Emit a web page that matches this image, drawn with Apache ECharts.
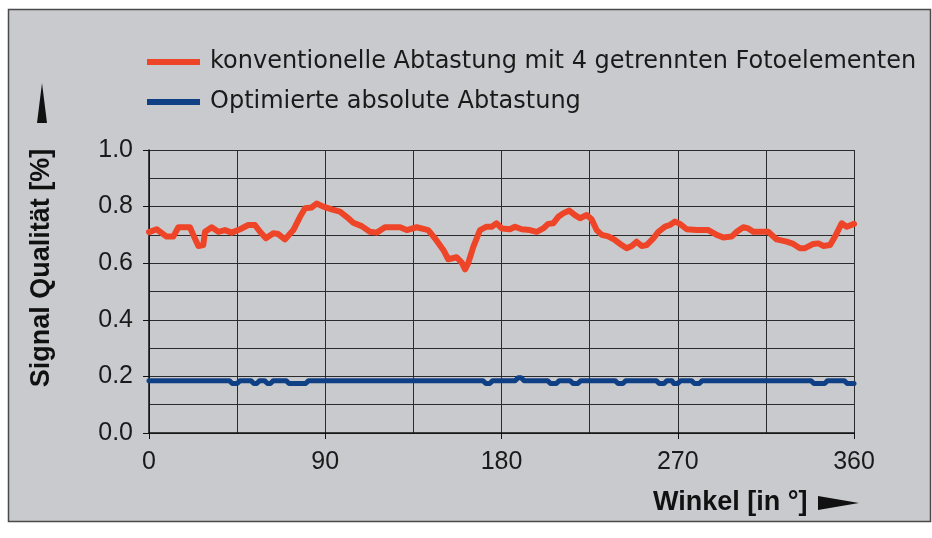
<!DOCTYPE html>
<html>
<head>
<meta charset="utf-8">
<script src="https://cdn.jsdelivr.net/npm/echarts@6.0.0/dist/echarts.min.js"></script>
<style>
  html, body { margin: 0; padding: 0; background: #fff; }
  #chart { width: 932px; height: 538px; }
</style>
</head>
<body>
<div id="chart"></div>
<script>
// angle in degrees and signal quality (0..1)
var redAngles = [
  0, 3.9, 9.0, 12.4, 15.0, 20.9, 22.6, 25.2, 27.7, 28.6,
  32.0, 35.4, 38.8, 42.2, 46.5, 50.7, 54.1, 56.7, 59.7, 63.5,
  66.0, 69.4, 73.7, 77.1, 79.7, 83.1, 85.6, 89.0, 93.3, 97.5,
  100.9, 104.3, 108.6, 112.8, 116.3, 120.5, 128.2, 131.6, 136.7, 142.6,
  146.0, 150.3, 152.8, 157.1, 159.7, 161.4, 163.0, 165.6, 169.0, 172.4,
  175.0, 177.5, 180.1, 184.3, 186.9, 190.3, 194.5, 198.0, 201.3, 203.9,
  206.4, 209.0, 211.5, 214.6, 217.5, 220.1, 223.5, 226.0, 228.6, 231.2,
  234.5, 237.9, 241.4, 243.9, 246.5, 249.0, 251.6, 254.1, 257.5, 260.1,
  263.5, 266.0, 268.6, 271.1, 274.6, 279.7, 285.6, 289.9, 293.3, 297.5,
  300.1, 303.5, 306.0, 308.6, 316.2, 320.5, 325.6, 329.0, 332.4, 335.0,
  339.2, 341.8, 344.3, 347.8, 350.3, 353.7, 356.3, 360
];
var redValues = [
  0.71, 0.72, 0.694, 0.694, 0.727, 0.727, 0.70, 0.661, 0.664, 0.711,
  0.727, 0.711, 0.717, 0.708, 0.72, 0.735, 0.735, 0.711, 0.688, 0.706,
  0.703, 0.684, 0.717, 0.764, 0.794, 0.797, 0.811, 0.80, 0.79, 0.782,
  0.764, 0.743, 0.731, 0.711, 0.708, 0.727, 0.727, 0.717, 0.727, 0.717,
  0.688, 0.647, 0.614, 0.621, 0.602, 0.578, 0.60, 0.658, 0.717, 0.729,
  0.729, 0.741, 0.723, 0.72, 0.729, 0.72, 0.717, 0.711, 0.723, 0.739,
  0.741, 0.764, 0.776, 0.786, 0.770, 0.759, 0.770, 0.755, 0.717, 0.70,
  0.695, 0.682, 0.664, 0.653, 0.661, 0.676, 0.661, 0.664, 0.688, 0.711,
  0.729, 0.735, 0.747, 0.739, 0.72, 0.717, 0.717, 0.70, 0.691, 0.694,
  0.711, 0.727, 0.723, 0.711, 0.711, 0.684, 0.676, 0.668, 0.653, 0.653,
  0.668, 0.670, 0.661, 0.664, 0.694, 0.741, 0.729, 0.739
];

var blueAngles = [
  0, 41, 42.5, 45, 46.5, 52, 53.5, 55, 56.5, 59,
  60.5, 62, 63.5, 70, 71.5, 80, 81.5, 170.5, 172, 174,
  175.5, 187, 188.5, 190, 191.5, 203.5, 205, 208, 209.5, 215,
  216.5, 219, 220.5, 238, 239.5, 242, 243.5, 259, 260.5, 263,
  264.5, 267, 268, 270, 271.5, 277, 278.5, 281, 282.5, 338,
  339.5, 345, 346.5, 355, 356.5, 360
];
var blueValues = [
  0.185, 0.185, 0.175, 0.175, 0.185, 0.185, 0.175, 0.175, 0.185, 0.185,
  0.175, 0.175, 0.185, 0.185, 0.175, 0.175, 0.185, 0.185, 0.175, 0.175,
  0.185, 0.185, 0.195, 0.195, 0.185, 0.185, 0.175, 0.175, 0.185, 0.185,
  0.175, 0.175, 0.185, 0.185, 0.175, 0.175, 0.185, 0.185, 0.175, 0.175,
  0.185, 0.185, 0.175, 0.175, 0.185, 0.185, 0.175, 0.175, 0.185, 0.185,
  0.175, 0.175, 0.185, 0.185, 0.175, 0.175
];

var seriesNames = [
  'konventionelle Abtastung mit 4 getrennten Fotoelementen',
  'Optimierte absolute Abtastung'
];
var xTicks = [0, 90, 180, 270, 360];
var yTicks = [0.0, 0.2, 0.4, 0.6, 0.8, 1.0];

function zip(xs, ys) {
  var out = [];
  for (var i = 0; i < xs.length; i++) {
    out.push([xs[i], ys[i]]);
  }
  return out;
}

var FONT = '"Liberation Sans", Arial, sans-serif';
var gridLine = { color: '#2b2b2b', width: 1 };

var myChart = echarts.init(document.getElementById('chart'), null, { renderer: 'canvas' });

var option = {
  backgroundColor: '#ffffff',
  animation: false,
  graphic: [
    {
      type: 'rect', z: -10, silent: true,
      shape: { x: 8.5, y: 9.5, width: 922, height: 512 },
      style: { fill: '#c9cacd', stroke: '#4a4a4a', lineWidth: 1.5 }
    },
    {
      type: 'text', x: 42, y: 268, rotation: Math.PI / 2,
      style: {
        text: 'Signal Qualität [%]', font: 'bold 27px ' + FONT,
        fill: '#111', align: 'center', verticalAlign: 'middle'
      }
    },
    {
      type: 'polygon',
      shape: { points: [[42, 83], [37, 123], [47, 123]] },
      style: { fill: '#111' }
    },
    {
      type: 'text', x: 653, y: 503,
      style: {
        text: 'Winkel [in °]', font: 'bold 27px ' + FONT,
        fill: '#111', align: 'left', verticalAlign: 'middle'
      }
    },
    {
      type: 'polygon',
      shape: { points: [[859, 503], [818, 496], [818, 510]] },
      style: { fill: '#111' }
    }
  ],
  legend: {
    orient: 'vertical',
    left: 147,
    top: 49,
    padding: 0,
    itemWidth: 53,
    itemHeight: 6,
    itemGap: 14,
    icon: 'rect',
    data: seriesNames,
    textStyle: {
      fontFamily: '"DejaVu Sans", sans-serif', fontSize: 24, color: '#1a1a1a',
      lineHeight: 26, padding: [0, 0, 0, 5]
    }
  },
  grid: { left: 149, top: 150, right: 78, bottom: 105, containLabel: false },
  xAxis: {
    type: 'value',
    min: 0,
    max: 360,
    interval: 90,
    axisLine: { show: true, onZero: false, lineStyle: { color: '#111', width: 1.5 } },
    axisTick: { show: true, length: 6, lineStyle: { color: '#111' } },
    axisLabel: {
      margin: 17, fontFamily: FONT, fontSize: 25, color: '#1a1a1a',
      formatter: function (v) { return xTicks.indexOf(v) >= 0 ? String(v) : ''; }
    },
    splitLine: { show: true, lineStyle: gridLine },
    minorTick: { show: false, splitNumber: 2 },
    minorSplitLine: { show: true, lineStyle: gridLine }
  },
  yAxis: {
    type: 'value',
    min: 0,
    max: 1,
    interval: 0.2,
    axisLine: { show: true, onZero: false, lineStyle: { color: '#111', width: 1.5 } },
    axisTick: { show: true, length: 6, lineStyle: { color: '#111' } },
    axisLabel: {
      margin: 16, fontFamily: FONT, fontSize: 25, color: '#1a1a1a',
      formatter: function (v) { return v.toFixed(1); }
    },
    splitLine: { show: true, lineStyle: gridLine },
    minorTick: { show: false, splitNumber: 2 },
    minorSplitLine: { show: true, lineStyle: gridLine }
  },
  series: [
    {
      name: seriesNames[0],
      type: 'line',
      showSymbol: false,
      color: '#ee4427',
      lineStyle: { width: 6, color: '#ee4427', join: 'round', cap: 'round' },
      data: zip(redAngles, redValues)
    },
    {
      name: seriesNames[1],
      type: 'line',
      showSymbol: false,
      color: '#0f3f85',
      lineStyle: { width: 5, color: '#0f3f85', join: 'round', cap: 'round' },
      data: zip(blueAngles, blueValues)
    }
  ]
};

myChart.setOption(option);
</script>
</body>
</html>
